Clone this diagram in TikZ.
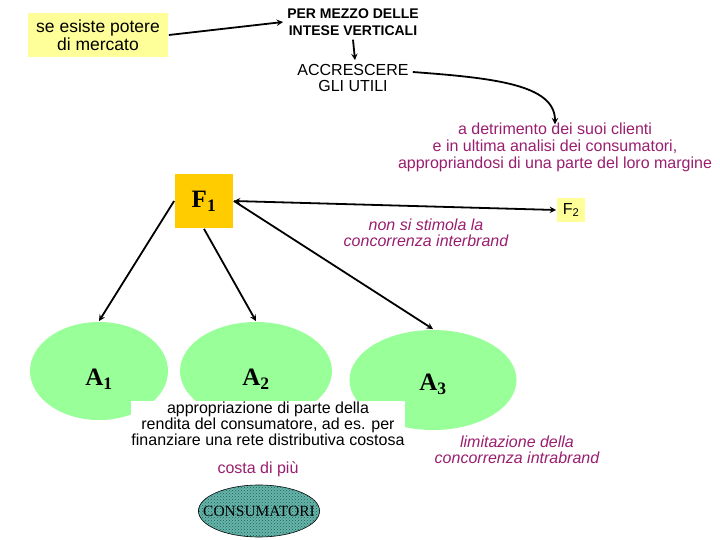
\documentclass[tikz,border=0pt]{standalone}
\usepackage{fontspec}
\setmainfont{Liberation Sans}
\newfontfamily\timesfont{Liberation Serif}
\usetikzlibrary{shapes.geometric, patterns, arrows}
\definecolor{paleyellow}{RGB}{255,255,153}
\definecolor{gold}{RGB}{255,204,0}
\definecolor{lightgreen}{RGB}{153,255,153}
\definecolor{plum}{RGB}{153,30,110}
\definecolor{tealfill}{RGB}{105,180,170}
\definecolor{tealdots}{RGB}{20,100,90}

\begin{document}
\begin{tikzpicture}[x=1pt,y=-1pt,->,>=stealth,line width=1.8pt,
    ybox/.style={fill=paleyellow, inner sep=0pt, align=center},
    area/.style={ellipse, fill=lightgreen, inner sep=0pt, text depth=0pt, font=\timesfont\bfseries\fontsize{25}{25}\selectfont},
    note/.style={text=plum, align=center, font=\fontsize{16}{17}\selectfont}]
  \useasboundingbox (0,0) rectangle (720,540);

  \node[ybox, minimum width=140, minimum height=44, font=\fontsize{17.5}{18}\selectfont] (potere) at (98,35) {se esiste potere\\di mercato};
  \node[align=center, font=\bfseries\fontsize{14}{17}\selectfont] (intese) at (353,22) {PER MEZZO DELLE\\INTESE VERTICALI};
  \node[align=center, font=\fontsize{16}{16}\selectfont] (utili) at (353,78) {ACCRESCERE\\GLI UTILI};
  \node[note] (detrimento) at (555,147) {a detrimento dei suoi clienti\\e in ultima analisi dei consumatori,\\appropriandosi di una parte del loro margine};

  \node[fill=gold, minimum width=58, minimum height=54, font=\timesfont\bfseries\fontsize{25}{25}\selectfont] (F1) at (204,201) {F\textsubscript{1}};
  \node[ybox, minimum width=28, minimum height=24, font=\fontsize{16}{16}\selectfont] (F2) at (571,210) {F\textsubscript{2}};
  \node[note, font=\itshape\fontsize{16}{15.5}\selectfont] (interbrand) at (426,233) {non si stimola la\\concorrenza interbrand};

  \node[area, text height=29pt, minimum width=138, minimum height=98] (A1) at (99,371) {A\textsubscript{1}};
  \node[area, text height=29pt, minimum width=152, minimum height=98] (A2) at (256,371) {A\textsubscript{2}};
  \node[area, text height=21pt, minimum width=167, minimum height=100] (A3) at (433,380) {A\textsubscript{3}};
  \node[fill=white, align=center, minimum width=274, minimum height=46, inner sep=0pt, font=\fontsize{16}{14.5}\selectfont] (rendita) at (268,424) {appropriazione di parte della\\rendita del consumatore, ad es. per\\finanziare una rete distributiva costosa};
  \node[note, font=\itshape\fontsize{16}{16}\selectfont] (intrabrand) at (517,450) {limitazione della\\concorrenza intrabrand};
  \node[note] (costa) at (258,469) {costa di più};
  \node[ellipse, draw, line width=0.6pt, fill=tealfill, postaction={pattern=crosshatch dots, pattern color=tealdots}, minimum height=52, inner xsep=-13pt, inner ysep=0pt, font=\timesfont\fontsize{15.5}{16}\selectfont] (consumatori) at (259,511) {CONSUMATORI};

  \draw (potere.east) -- (intese.west);
  \draw (intese.south) -- ([xshift=2pt]utili.north);
  \draw ([yshift=6pt]utili.east) .. controls +(80,6) and +(0,-40) .. ([yshift=-6pt]detrimento.north);
  \draw[<->] (F1.east) -- (F2.west);
  \draw (F1.west) -- (A1.north);
  \draw (F1.south) -- (A2.north);
  \draw (F1.east) -- (A3.north);
\end{tikzpicture}
\end{document}
